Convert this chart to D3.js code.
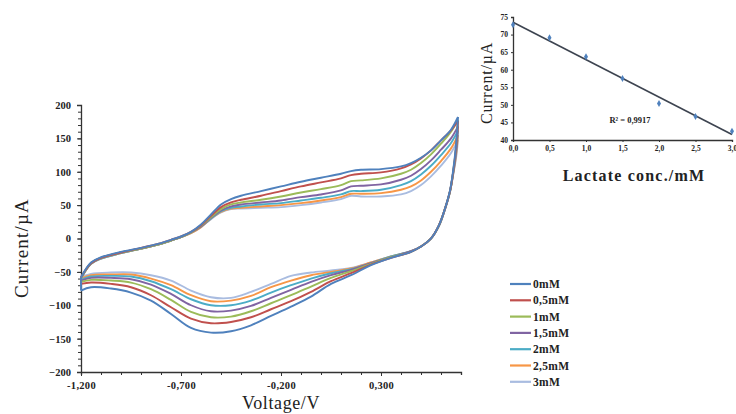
<!DOCTYPE html>
<html><head><meta charset="utf-8">
<script src="https://cdn.jsdelivr.net/npm/d3@7"></script>
<style>
body{margin:0;background:#fff;}
svg{display:block;}
text{font-family:"Liberation Serif","DejaVu Serif",serif;fill:#222;}
</style></head>
<body><svg id="c" width="736" height="414"></svg>
<script>
// ---------- DATA ----------
const seriesNames = ["0mM","0,5mM","1mM","1,5mM","2mM","2,5mM","3mM"];
const seriesColors = ["#4F81BD","#C0504D","#9BBB59","#8064A2","#4BACC6","#F79646","#A9BCE0"];

// forward (anodic) scan potentials, V
const upperV = [-1.2,-1.15,-1.1,-1.0,-0.9,-0.8,-0.75,-0.7,-0.65,-0.6,-0.55,-0.5,-0.45,-0.4,-0.3,-0.2,-0.1,0.0,0.1,0.15,0.2,0.3,0.4,0.45,0.5,0.55,0.6,0.65,0.685];
const upper0   = [-58,-36,-28,-20,-14,-7,-2,3,10,21,36,51,59,64,71,78,85,91,97,101,103,104,108,113,121,132,147,163,182];
const upper05  = [-58,-37,-29,-21,-14,-7,-2,3,10,20,34,47,54,58,64,71,78,84,90,95,97,99,105,111,120,132,147,162,176];
const upper1   = [-59,-37,-29,-21,-15,-8,-3,2,9,19,32,44,51,54,58,63,69,74,80,86,87,90,97,103,113,126,142,160,178];
const upper15  = [-59,-37,-29,-21,-15,-8,-3,2,9,18,31,42,48,51,54,57,62,66,72,78,79,81,88,94,104,117,133,150,168];
const upper2   = [-60,-38,-30,-22,-15,-8,-3,2,9,18,30,41,46,48,51,53,57,61,66,71,71,73,80,86,96,109,125,143,162];
const upper25  = [-60,-38,-30,-22,-15,-8,-3,2,8,17,30,40,45,46,48,50,53,57,62,67,67,68,73,78,87,100,116,135,155];
const upper3   = [-60,-38,-30,-22,-15,-8,-3,2,8,17,29,39,44,45,46,47,50,54,59,64,63,63,66,71,80,93,109,128,148];

// reverse (cathodic) scan potentials, V
const lowerV = [0.685,0.675,0.66,0.645,0.62,0.59,0.55,0.5,0.45,0.35,0.25,0.15,0.05,-0.05,-0.15,-0.25,-0.35,-0.45,-0.55,-0.65,-0.75,-0.85,-0.95,-1.05,-1.15,-1.2];
const lower0   = [182,140,100,72,45,20,0,-12,-20,-29,-40,-55,-68,-87,-102,-116,-130,-139,-141,-134,-113,-93,-81,-75,-73,-78];
const lower05  = [176,135,98,71,45,20,0,-12,-20,-29,-39,-52,-64,-80,-94,-106,-118,-125,-127,-120,-103,-85,-73,-68,-66,-68];
const lower1   = [178,135,98,71,45,20,0,-12,-20,-28,-38,-49,-59,-72,-85,-97,-109,-117,-118,-110,-92,-76,-66,-63,-62,-65];
const lower15  = [168,130,97,71,44,20,0,-12,-19,-28,-37,-47,-55,-65,-77,-89,-101,-108,-109,-100,-83,-69,-61,-59,-59,-63];
const lower2   = [162,127,96,70,44,19,0,-12,-19,-27,-37,-46,-52,-60,-70,-81,-93,-100,-100,-91,-76,-64,-57,-56,-57,-62];
const lower25  = [155,124,95,70,44,19,0,-12,-19,-27,-36,-45,-50,-55,-63,-73,-86,-93,-94,-85,-70,-60,-54,-54,-55,-60];
const lower3   = [148,120,94,70,44,19,0,-12,-19,-27,-36,-44,-48,-51,-56,-68,-80,-89,-88,-78,-63,-55,-51,-51,-53,-58];

const uppers = [upper0,upper05,upper1,upper15,upper2,upper25,upper3];
const lowers = [lower0,lower05,lower1,lower15,lower2,lower25,lower3];

const xTicks = [-1.2,-0.7,-0.2,0.3];
const xTickLabels = ["-1,200","-0,700","-0,200","0,300"];
const yTicks = [-200,-150,-100,-50,0,50,100,150,200];

// inset calibration data
const lactateConc = [0,0.5,1.0,1.5,2.0,2.5,3.0];
const peakCurrent = [72.8,69.1,63.7,57.5,50.4,46.7,42.5];
const insetXTicks = [0,0.5,1.0,1.5,2.0,2.5,3.0];
const insetXTickLabels = ["0,0","0,5","1,0","1,5","2,0","2,5","3,0"];
const insetYTicks = [40,45,50,55,60,65,70,75];
const r2Label = "R² = 0,9917";

// ---------- MAIN CHART ----------
const svg = d3.select("#c");
const x = d3.scaleLinear().domain([-1.2,0.7]).range([81,461]);
const y = d3.scaleLinear().domain([-200,200]).range([372,105]);

const g = svg.append("g");
g.append("g").attr("transform","translate(81,0)")
  .call(d3.axisLeft(y).tickValues(d3.range(-200,201,10)).tickSize(3).tickFormat(""))
  .call(a=>a.selectAll("path,line").attr("stroke","#333").attr("stroke-width",1));
g.append("g").attr("transform","translate(81,0)")
  .call(d3.axisLeft(y).tickValues(yTicks).tickSize(4).tickPadding(6).tickFormat(d3.format("d")))
  .call(a=>a.select(".domain").attr("stroke","#333").attr("stroke-width",1.3))
  .call(a=>a.selectAll("line").attr("stroke","#333"))
  .call(a=>a.selectAll("text").attr("font-family","Liberation Serif").attr("font-weight","bold").attr("font-size",10.5).attr("fill","#222"));
g.append("g").attr("transform","translate(0,372)")
  .call(d3.axisBottom(x).tickValues(d3.range(-12,7).map(d=>d/10)).tickSize(3).tickFormat(""))
  .call(a=>a.select(".domain").attr("stroke","#333").attr("stroke-width",1.3))
  .call(a=>a.selectAll("line").attr("stroke","#333"));
g.append("g").attr("transform","translate(0,372)")
  .call(d3.axisBottom(x).tickValues(xTicks).tickSize(4).tickPadding(6).tickFormat((d,i)=>xTickLabels[i]))
  .call(a=>a.select(".domain").remove())
  .call(a=>a.selectAll("line").attr("stroke","#333"))
  .call(a=>a.selectAll("text").attr("font-family","Liberation Serif").attr("font-weight","bold").attr("font-size",10.5).attr("letter-spacing",0.3).attr("fill","#222"));

// curves
const line = d3.line().x(d=>x(d[0])).y(d=>y(d[1])).curve(d3.curveCatmullRom.alpha(0.5));
const straight = d3.line().x(d=>x(d[0])).y(d=>y(d[1]));
const curves = g.append("g").attr("fill","none").attr("stroke-width",1.9).attr("stroke-linejoin","round");
for (let i=seriesNames.length-1;i>=0;i--){
  const up = upperV.map((v,k)=>[v,uppers[i][k]]);
  const lo = lowerV.map((v,k)=>[v,lowers[i][k]]);
  curves.append("path").attr("d",line(lo)).attr("stroke",seriesColors[i]);
  curves.append("path").attr("d",straight([lo[lo.length-1],up[0]])).attr("stroke",seriesColors[i]);
  curves.append("path").attr("d",line(up)).attr("stroke",seriesColors[i]);
}

// axis titles
svg.append("text").attr("x",281).attr("y",409).attr("text-anchor","middle")
  .attr("font-size",18).attr("letter-spacing",0.6).text("Voltage/V");
svg.append("text").attr("transform","translate(28,248) rotate(-90)").attr("text-anchor","middle")
  .attr("font-size",19).attr("letter-spacing",1.2).attr("fill","#444").text("Current/µA");

// legend
const leg = svg.append("g");
seriesNames.forEach((n,i)=>{
  const yy = 284 + i*16.3;
  leg.append("line").attr("x1",510).attr("x2",531).attr("y1",yy).attr("y2",yy)
    .attr("stroke",seriesColors[i]).attr("stroke-width",2.2);
  leg.append("text").attr("x",533).attr("y",yy+4).attr("font-size",11.5).attr("font-weight","bold")
    .attr("letter-spacing",0.3).text(n);
});

// ---------- INSET ----------
const ix = d3.scaleLinear().domain([0,3]).range([513,732]);
const iy = d3.scaleLinear().domain([40,75]).range([140,17]);
const ig = svg.append("g");
ig.append("g").attr("transform","translate(513,0)")
  .call(d3.axisLeft(iy).tickValues(insetYTicks).tickSize(2).tickPadding(3).tickFormat(d3.format("d")))
  .call(a=>a.select(".domain").attr("stroke","#333").attr("stroke-width",1.3))
  .call(a=>a.selectAll("line").attr("stroke","#333"))
  .call(a=>a.selectAll("text").attr("font-family","Liberation Serif").attr("font-weight","bold").attr("font-size",7.5).attr("fill","#333"));
ig.append("g").attr("transform","translate(0,140)")
  .call(d3.axisBottom(ix).tickValues(insetXTicks).tickSize(2).tickPadding(4).tickFormat((d,i)=>insetXTickLabels[i]))
  .call(a=>a.select(".domain").attr("stroke","#333").attr("stroke-width",1.3))
  .call(a=>a.selectAll("line").attr("stroke","#333"))
  .call(a=>a.selectAll("text").attr("font-family","Liberation Serif").attr("font-weight","bold").attr("font-size",7.5).attr("fill","#333"));

// linear trendline (least squares from the data)
const mx = d3.mean(lactateConc), my = d3.mean(peakCurrent);
const slope = d3.sum(lactateConc.map((c,i)=>(c-mx)*(peakCurrent[i]-my))) / d3.sum(lactateConc.map(c=>(c-mx)*(c-mx)));
const icpt = my - slope*mx;
ig.append("line").attr("x1",ix(0)).attr("y1",iy(icpt)).attr("x2",ix(3)).attr("y2",iy(icpt+slope*3))
  .attr("stroke","#3d4450").attr("stroke-width",1.6);
ig.selectAll("path.pt").data(lactateConc).join("path").attr("class","pt")
  .attr("transform",(d,i)=>`translate(${ix(d)},${iy(peakCurrent[i])})`)
  .attr("d",d3.symbol(d3.symbolDiamond,14)).attr("fill","#4F81BD");
ig.append("text").attr("x",630).attr("y",123).attr("text-anchor","middle").attr("font-size",8.5)
  .attr("font-weight","bold").text(r2Label);
ig.append("text").attr("x",634).attr("y",181).attr("text-anchor","middle").attr("font-size",16)
  .attr("font-weight","bold").attr("letter-spacing",1.2).text("Lactate conc./mM");
ig.append("text").attr("transform","translate(492,83) rotate(-90)").attr("text-anchor","middle")
  .attr("font-size",16).attr("letter-spacing",0.8).attr("fill","#444").text("Current/µA");
</script></body></html>
